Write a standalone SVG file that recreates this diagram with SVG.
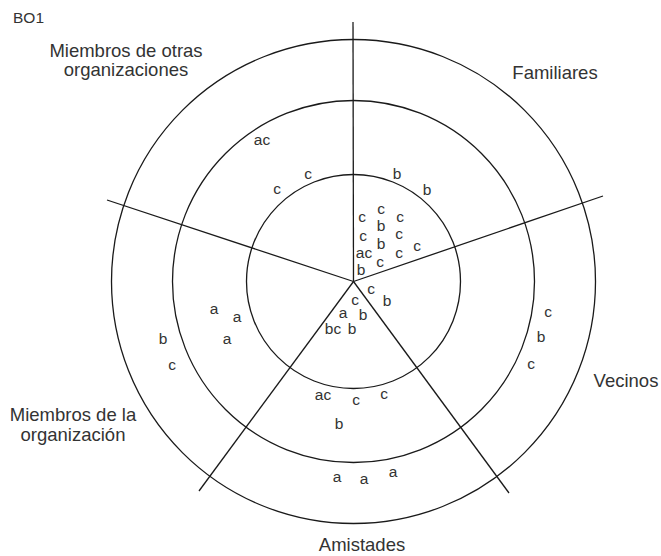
<svg xmlns="http://www.w3.org/2000/svg" width="661" height="556" viewBox="0 0 661 556">
<style>
.ring{fill:none;stroke:#1a1a1a;stroke-width:1.3}
.spoke{stroke:#1a1a1a;stroke-width:1.3}
.lbl{font-family:"Liberation Sans",Arial,sans-serif;font-size:18.5px;fill:#333}
.m{font-family:"Liberation Sans",Arial,sans-serif;font-size:15.5px;fill:#333;text-anchor:middle}
</style>
<rect width="661" height="556" fill="#fff"/>
<g id="rings">
<circle class="ring" cx="353.5" cy="281.5" r="242"/>
<circle class="ring" cx="353.5" cy="281.5" r="181"/>
<circle class="ring" cx="353.5" cy="281.5" r="107"/>
</g>
<g id="connectors">
<line class="spoke" x1="353.5" y1="281.5" x2="353" y2="22"/>
<line class="spoke" x1="353.5" y1="281.5" x2="603" y2="196"/>
<line class="spoke" x1="353.5" y1="281.5" x2="509" y2="493"/>
<line class="spoke" x1="353.5" y1="281.5" x2="199" y2="491"/>
<line class="spoke" x1="353.5" y1="281.5" x2="107" y2="200"/>
</g>
<g id="titles">
<text class="lbl" x="13" y="23" style="font-size:15.5px">BO1</text>
<g id="otras"><text class="lbl" x="126" y="57" text-anchor="middle">Miembros de otras</text>
<text class="lbl" x="126" y="76" text-anchor="middle">organizaciones</text></g>
<g id="familiares"><text class="lbl" x="555" y="79" text-anchor="middle">Familiares</text></g>
<g id="vecinos"><text class="lbl" x="626" y="387" text-anchor="middle">Vecinos</text></g>
<g id="organizacion"><text class="lbl" x="73" y="421" text-anchor="middle">Miembros de la</text>
<text class="lbl" x="73" y="441" text-anchor="middle">organización</text></g>
<g id="amistades"><text class="lbl" x="362" y="551" text-anchor="middle">Amistades</text></g>
</g>
<g id="marks">
<text class="m" x="262" y="145">ac</text>
<text class="m" x="277" y="194">c</text>
<text class="m" x="308" y="179">c</text>
<text class="m" x="397" y="179">b</text>
<text class="m" x="427" y="194.5">b</text>
<text class="m" x="362" y="221.5">c</text>
<text class="m" x="363" y="240.5">c</text>
<text class="m" x="364" y="257.5">ac</text>
<text class="m" x="361" y="275">b</text>
<text class="m" x="381" y="213.5">c</text>
<text class="m" x="381" y="230.5">b</text>
<text class="m" x="381" y="248.5">b</text>
<text class="m" x="380" y="266.5">c</text>
<text class="m" x="400" y="221.5">c</text>
<text class="m" x="399" y="238.5">c</text>
<text class="m" x="399" y="257.5">c</text>
<text class="m" x="417" y="250.5">c</text>
<text class="m" x="371" y="293.5">c</text>
<text class="m" x="387" y="306">b</text>
<text class="m" x="355" y="304.5">c</text>
<text class="m" x="363" y="319.5">b</text>
<text class="m" x="343" y="317.5">a</text>
<text class="m" x="333" y="334">bc</text>
<text class="m" x="352" y="333.5">b</text>
<text class="m" x="214" y="313.5">a</text>
<text class="m" x="237" y="322">a</text>
<text class="m" x="227" y="344">a</text>
<text class="m" x="163" y="344">b</text>
<text class="m" x="172" y="369.5">c</text>
<text class="m" x="323" y="399.5">ac</text>
<text class="m" x="356" y="405">c</text>
<text class="m" x="384" y="398.5">c</text>
<text class="m" x="339" y="429">b</text>
<text class="m" x="548" y="317">c</text>
<text class="m" x="541" y="342">b</text>
<text class="m" x="531" y="368.5">c</text>
<text class="m" x="337" y="482">a</text>
<text class="m" x="364" y="483.5">a</text>
<text class="m" x="393" y="477">a</text>
</g>
</svg>
